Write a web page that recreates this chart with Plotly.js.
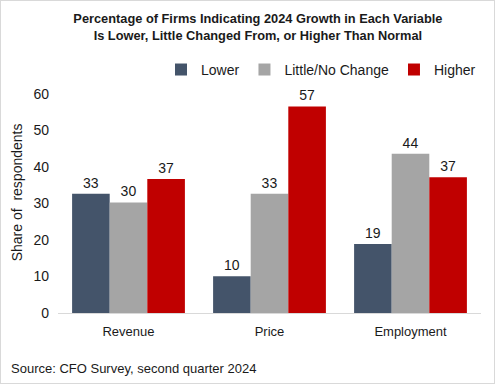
<!DOCTYPE html>
<html>
<head>
<meta charset="utf-8">
<script src="https://cdn.plot.ly/plotly-3.0.1.min.js"></script>
<style>
  html, body { margin: 0; padding: 0; background: #fff; }
  #wrap { position: relative; width: 495px; height: 384px; }
  #chart { width: 495px; height: 384px; }
  #frame { position: absolute; left: 0; top: 0; width: 493px; height: 382px; border: 1px solid #D9D9D9; pointer-events: none; }
</style>
</head>
<body>
<div id="wrap"><div id="chart"></div><div id="frame"></div></div>
<script>
const categories = ["Revenue", "Price", "Employment"];
const lowerValues = [32.7, 10.1, 18.9];
const littleValues = [30.3, 32.7, 43.6];
const higherValues = [36.7, 56.6, 37.2];
const seriesNames = ["Lower", "Little/No Change", "Higher"];
const yTicks = [0, 10, 20, 30, 40, 50, 60];

const colors = ["#44546A", "#A5A5A5", "#C00000"];
const font = "Liberation Sans, Arial, sans-serif";
const txt = "#1a1a1a";

const series = [lowerValues, littleValues, higherValues];
const traces = series.map((vals, i) => ({
  type: "bar",
  name: seriesNames[i],
  x: categories,
  y: vals,
  marker: { color: colors[i] },
  texttemplate: "%{y:.0f}",
  textposition: "outside",
  textfont: { family: font, size: 14, color: txt },
  cliponaxis: false,
  hoverinfo: "skip"
}));

const layout = {
  width: 495, height: 384,
  margin: { l: 58, r: 14, t: 94, b: 70.5 },
  paper_bgcolor: "#fff", plot_bgcolor: "#fff",
  font: { family: font, color: txt, size: 13 },
  barmode: "group",
  bargap: 0.2,
  bargroupgap: 0,
  title: {
    text: "<b>Percentage of Firms Indicating 2024 Growth in Each Variable<br>Is Lower, Little Changed From, or Higher Than Normal</b>",
    font: { family: font, size: 12.8, color: txt },
    xref: "container", x: 0.521, xanchor: "center",
    yref: "container", y: 0.9395, yanchor: "top"
  },
  showlegend: true,
  legend: {
    orientation: "h",
    x: 1.0, xanchor: "right",
    y: 1.11, yanchor: "middle",
    font: { family: font, size: 14, color: txt },
    itemwidth: 30,
    tracegroupgap: 0,
    bgcolor: "rgba(0,0,0,0)"
  },
  xaxis: {
    type: "category",
    showline: true, linecolor: "#D9D9D9", linewidth: 1,
    ticks: "",
    showgrid: false,
    tickfont: { family: font, size: 13, color: txt },
    ticklabelstandoff: 6,
    fixedrange: true
  },
  yaxis: {
    range: [0, 60],
    tickvals: yTicks,
    ticktext: yTicks.map(String),
    showgrid: false,
    zeroline: false,
    showline: false,
    ticks: "",
    ticklabelstandoff: 8,
    tickfont: { family: font, size: 14, color: txt },
    fixedrange: true
  },
  annotations: [
    {
      text: "Share of  respondents",
      textangle: -90,
      xref: "paper", yref: "paper",
      x: -0.097, y: 0.551,
      xanchor: "center", yanchor: "middle",
      showarrow: false,
      font: { family: font, size: 14, color: txt }
    },
    {
      text: "Source: CFO Survey, second quarter 2024",
      xref: "paper", yref: "paper",
      x: -0.116, y: -0.253,
      xanchor: "left", yanchor: "middle",
      showarrow: false,
      font: { family: font, size: 13, color: txt }
    }
  ]
};

Plotly.newPlot("chart", traces, layout, { displayModeBar: false, staticPlot: true });
</script>
</body>
</html>
